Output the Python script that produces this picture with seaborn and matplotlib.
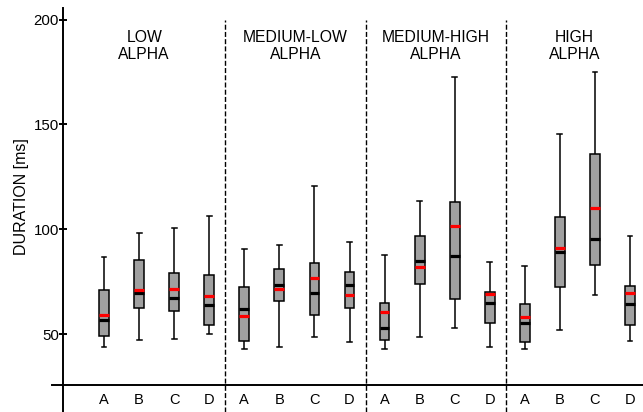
import matplotlib
matplotlib.use("Agg")
import matplotlib.pyplot as plt
import numpy as np
import pandas as pd
import seaborn as sns

# group titles and condition labels
groups = ["LOW\nALPHA", "MEDIUM-LOW\nALPHA", "MEDIUM-HIGH\nALPHA", "HIGH\nALPHA"]
conditions = ["A", "B", "C", "D"]

# box statistics, order: low A-D, medium-low A-D, medium-high A-D, high A-D
whisk_low = [44.0, 47.3, 47.6, 49.8, 43.1, 43.6, 48.5, 46.3,
             42.8, 48.4, 52.7, 44.0, 42.8, 51.8, 68.6, 46.8]
q1 = [49.2, 62.4, 61.2, 54.1, 46.5, 66.0, 59.2, 62.4,
      47.3, 73.9, 66.8, 55.5, 46.2, 72.4, 83.1, 54.1]
median = [56.8, 69.7, 67.1, 64.1, 62.0, 73.5, 69.7, 73.5,
          53.1, 85.0, 87.3, 65.0, 55.2, 89.3, 95.2, 64.4]
q3 = [70.8, 85.3, 79.0, 78.2, 72.4, 81.2, 83.8, 79.8,
      65.0, 96.9, 112.9, 70.3, 64.3, 105.9, 135.9, 73.1]
whisk_high = [86.9, 98.0, 100.4, 106.3, 90.7, 92.5, 120.7, 94.1,
              87.7, 113.4, 172.6, 84.5, 82.5, 145.6, 174.8, 96.9]
mean = [59.2, 71.1, 71.6, 68.2, 58.7, 71.6, 76.9, 68.4,
        60.5, 82.2, 101.4, 69.2, 58.2, 90.9, 109.9, 69.7]

rows = []
for i in range(len(median)):
    for v in (whisk_low[i], q1[i], median[i], q3[i], whisk_high[i]):
        rows.append({"box": i, "value": v})
df = pd.DataFrame(rows)

plt.rcParams['font.family'] = ['Liberation Sans', 'DejaVu Sans']

fig = plt.figure(figsize=(6.43, 4.12), dpi=100)
ax = fig.add_axes([0.098, 0.0655, 0.902, 0.915])

box_w = 0.28
sns.boxplot(data=df, x="box", y="value", whis=(0, 100), width=box_w,
            color="#a0a0a0", saturation=1, linecolor="black", linewidth=1.1,
            fliersize=0, medianprops=dict(color="black", linewidth=2.3), ax=ax)

pos = np.arange(len(mean))
ax.hlines(mean, pos - box_w / 2, pos + box_w / 2, color="red", linewidth=2.3, zorder=5)

x_left, x_right = -1.17, 15.37
ax.set_xlim(x_left, x_right)
ax.set_ylim(25.7, 205.5)

seps = [3.46, 7.47, 11.46]
ax.vlines(seps, 12.9, 200, colors="black", linewidth=1, linestyles=(0, (3.6, 1.6)), clip_on=False)

bounds = [x_left] + seps + [x_right]
for k, g in enumerate(groups):
    ax.text((bounds[k] + bounds[k + 1]) / 2, 187.4, g, ha="center", va="center",
            fontsize=11.3, linespacing=1.1)

ax.set_xticks(pos)
ax.set_xticklabels(conditions * 4, fontsize=10.5)
ax.tick_params(axis="x", length=0, pad=6)
ax.set_yticks([50, 100, 150, 200])
ax.tick_params(axis="y", direction="inout", length=6, width=1.4, labelsize=10.8, pad=0)
ax.set_xlabel("")
ax.set_ylabel("DURATION [ms]", fontsize=11.5, labelpad=3)

for s in ["top", "right"]:
    ax.spines[s].set_visible(False)
ax.spines["left"].set_linewidth(1.4)
ax.spines["bottom"].set_linewidth(1.4)
ax.spines["left"].set_bounds(12.9, 205.5)
ax.spines["bottom"].set_bounds(-1.48, x_right)

fig.savefig("out.png", dpi=100)
plt.close()
